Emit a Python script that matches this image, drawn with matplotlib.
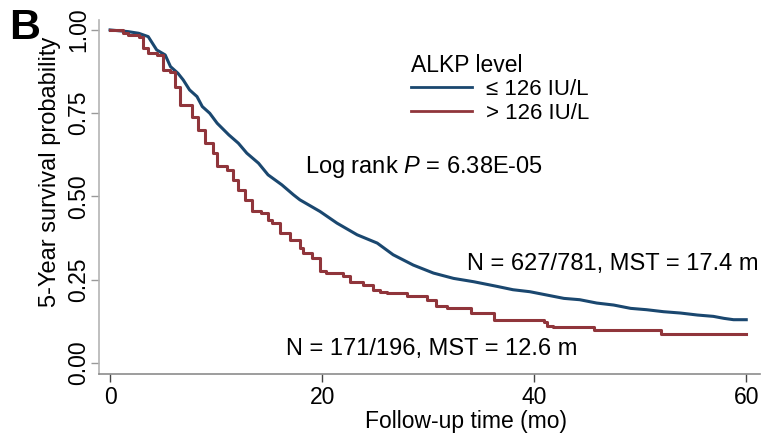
import matplotlib
matplotlib.use('Agg')
import matplotlib.pyplot as plt
from matplotlib.lines import Line2D

plt.rcParams['font.family'] = ['Liberation Sans', 'DejaVu Sans']
plt.rcParams['mathtext.fontset'] = 'custom'
plt.rcParams['mathtext.rm'] = 'Liberation Sans'
plt.rcParams['mathtext.it'] = 'Liberation Sans:italic'

## ------------------------------ data --------------------------------------------------------

# ALKP <= 126 IU/L (navy)
low_time = [0, 1.7, 2.7, 3.6, 4.4, 5.2, 5.7, 6.4, 6.9, 7.5, 8.2, 8.7, 9.4, 10.1, 11.2,
            12.1, 12.9, 14.0, 14.9, 16.2, 17.3, 17.9, 19.8, 21.4, 23.3, 25.2, 26.7,
            28.6, 30.5, 32.4, 34.3, 36.5, 38.0, 39.6, 41.2, 42.8, 44.3, 45.9, 47.5,
            49.1, 50.6, 52.2, 53.8, 55.4, 56.9, 57.9, 58.8, 60.0]
low_surv = [1.0, 0.995, 0.99, 0.98, 0.94, 0.925, 0.89, 0.87, 0.85, 0.82, 0.80, 0.77,
            0.75, 0.72, 0.685, 0.66, 0.63, 0.60, 0.565, 0.535, 0.505, 0.49, 0.455,
            0.42, 0.385, 0.36, 0.325, 0.294, 0.27, 0.254, 0.244, 0.23, 0.22, 0.214,
            0.204, 0.194, 0.19, 0.18, 0.174, 0.164, 0.16, 0.154, 0.15, 0.144, 0.14,
            0.134, 0.13, 0.13]

# ALKP > 126 IU/L (maroon)
high_time = [0, 1.2, 1.7, 2.7, 3.1, 3.6, 4.4, 5.0, 5.7, 6.1, 6.6, 7.7, 8.3, 9.0, 9.7,
             10.1, 11.0, 11.6, 12.1, 12.7, 13.4, 14.2, 14.9, 15.3, 16.0, 17.0, 17.9,
             18.2, 19.0, 19.8, 20.4, 22.0, 22.6, 23.9, 24.8, 25.5, 26.1, 28.0, 29.9,
             30.7, 31.8, 34.0, 36.2, 40.9, 41.2, 41.8, 45.6, 52.0, 60.0]
high_surv = [1.0, 0.99, 0.985, 0.98, 0.945, 0.93, 0.925, 0.88, 0.875, 0.83, 0.775,
             0.74, 0.70, 0.66, 0.63, 0.59, 0.58, 0.55, 0.52, 0.49, 0.455, 0.45, 0.43,
             0.42, 0.39, 0.37, 0.345, 0.33, 0.315, 0.275, 0.27, 0.26, 0.244, 0.234,
             0.22, 0.214, 0.21, 0.20, 0.19, 0.17, 0.164, 0.15, 0.13, 0.124, 0.111,
             0.109, 0.099, 0.087, 0.087]

group_labels = ['\u2264 126 IU/L', '> 126 IU/L']
legend_title = 'ALKP level'
x_ticks = [0, 20, 40, 60]
y_ticks = [0.0, 0.25, 0.50, 0.75, 1.0]
y_ticklabels = ['0.00', '0.25', '0.50', '0.75', '1.00']

navy = '#1a476f'
maroon = '#90353b'

## ------------------------------ figure -----------------------------------

fig = plt.figure(figsize=(7.64, 4.33), dpi=100)
ax = fig.add_axes([0.1296, 0.1363, 0.8652, 0.8176])

# the navy curve has many tiny steps, a plain line reads closer than coarse stairs
ax.plot(low_time, low_surv, color=navy, lw=2.2)
ax.step(high_time, high_surv, where='post', color=maroon, lw=2.2)

ax.set_xlim(-1.04, 61.3)
ax.set_ylim(-0.033, 1.03)

for side in ['top', 'right']:
    ax.spines[side].set_visible(False)
ax.spines['left'].set_color('#b4b4b4')
ax.spines['bottom'].set_color('#8c8c8c')
ax.spines['left'].set_linewidth(1.2)
ax.spines['bottom'].set_linewidth(1.2)

ax.set_xticks(x_ticks)
ax.set_yticks(y_ticks)
ax.set_yticklabels(y_ticklabels, rotation=90, va='center')
ax.tick_params(axis='x', length=6, width=1, color='#444444', pad=2.5, labelsize=16.5)
ax.tick_params(axis='y', length=6, width=1, color='#999999', pad=0.5, labelsize=16.5)

fig.text(0.066, 0.603, '5-Year survival probability', rotation=90,
         ha='center', va='center', fontsize=17)
fig.text(0.61, 0.011, 'Follow-up time (mo)', ha='center', va='baseline', fontsize=16.5)

fig.text(0.032, 0.935, 'B', ha='center', va='center', fontsize=31, fontweight='bold')

handles = [Line2D([], [], color=navy, lw=2), Line2D([], [], color=maroon, lw=2)]
leg = ax.legend(handles, group_labels, title=legend_title, loc='upper left',
                bbox_to_anchor=(0.472, 0.905), frameon=False, fontsize=16,
                title_fontsize=16.5, handlelength=2.75, handletextpad=0.63,
                labelspacing=0.12, borderpad=0, borderaxespad=0, alignment='left')

ax.text(0.3116, 0.568, 'Log rank $\\mathit{P}$ = 6.38E-05', transform=ax.transAxes,
        ha='left', va='baseline', fontsize=17)
ax.text(0.997, 0.294, 'N = 627/781, MST = 17.4 m', transform=ax.transAxes,
        ha='right', va='baseline', fontsize=17)
ax.text(0.723, 0.0537, 'N = 171/196, MST = 12.6 m', transform=ax.transAxes,
        ha='right', va='baseline', fontsize=17)

fig.savefig('out.png', dpi=100)
